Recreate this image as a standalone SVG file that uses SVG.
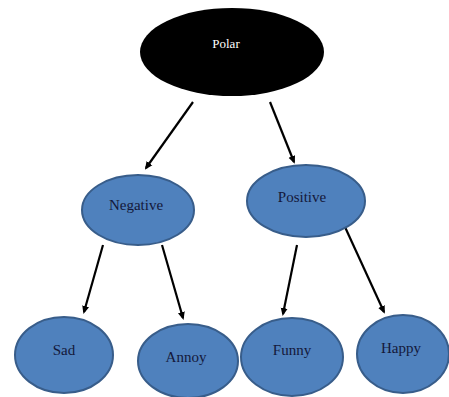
<svg xmlns="http://www.w3.org/2000/svg" width="449" height="397" viewBox="0 0 449 397">
<style>
.n{fill:#4f81bd;stroke:#385d8a;stroke-width:2}
.t{font-family:"Liberation Serif","Times New Roman",serif;font-size:15px;fill:#14183a;text-anchor:middle}
.c{stroke:#000;stroke-width:2.2;fill:none;marker-end:url(#ah)}
</style>
<defs>
<marker id="ah" markerWidth="8" markerHeight="8" refX="6" refY="4" orient="auto" markerUnits="userSpaceOnUse">
<path d="M0,0.5 L8,4 L0,7.5 Z" fill="#000"/>
</marker>
</defs>
<rect width="449" height="397" fill="#fff"/>
<g id="connectors">
<line class="c" x1="193" y1="102" x2="146" y2="168"/>
<line class="c" x1="270" y1="102" x2="294" y2="162"/>
<line class="c" x1="103" y1="245" x2="84" y2="312"/>
<line class="c" x1="162" y1="245" x2="183" y2="318"/>
<line class="c" x1="297" y1="245" x2="283" y2="314"/>
<line class="c" x1="345" y1="227" x2="384" y2="312"/>
</g>
<g id="polar">
<ellipse cx="232" cy="52" rx="92" ry="44" fill="#000"/>
<text class="t" x="226" y="48" style="fill:#fff;font-size:13px">Polar</text>
</g>
<g id="negative">
<ellipse class="n" cx="138" cy="210" rx="56" ry="35"/>
<text class="t" x="136" y="210">Negative</text>
</g>
<g id="positive">
<ellipse class="n" cx="306" cy="201" rx="59" ry="36"/>
<text class="t" x="302" y="202">Positive</text>
</g>
<g id="sad">
<ellipse class="n" cx="64" cy="355" rx="49" ry="38"/>
<text class="t" x="64" y="355">Sad</text>
</g>
<g id="annoy">
<ellipse class="n" cx="188" cy="361" rx="50" ry="37"/>
<text class="t" x="186" y="362">Annoy</text>
</g>
<g id="funny">
<ellipse class="n" cx="292" cy="357" rx="51" ry="39"/>
<text class="t" x="292" y="355">Funny</text>
</g>
<g id="happy">
<ellipse class="n" cx="403" cy="354" rx="46" ry="39"/>
<text class="t" x="401" y="353">Happy</text>
</g>
</svg>
